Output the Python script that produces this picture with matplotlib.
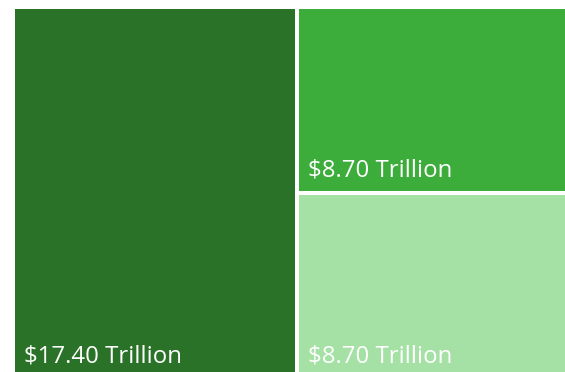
import matplotlib.pyplot as plt
from matplotlib.patches import Rectangle

# treemap data
labels = ["Total", "Part A", "Part B"]
values = [17.40, 8.70, 8.70]
colors = ["#297227", "#3cad3b", "#a5e1a5"]

plt.rcParams["font.family"] = ["Open Sans", "DejaVu Sans"]

fig = plt.figure(figsize=(5.65, 3.72), dpi=100)
ax = fig.add_axes([0, 0, 1, 1])
ax.set_xlim(0, 565)
ax.set_ylim(372, 0)
ax.axis("off")

# plotting area in pixels (runs a little past the canvas on the right/bottom)
x0, x1 = 15, 579
y0, y1 = 9, 377
gap = 2.0

total = sum(values)
left_w = (x1 - x0) * values[0] / total
right_total = values[1] + values[2]
top_h = (y1 - y0) * values[1] / right_total

boxes = [
    (x0, y0, left_w, y1 - y0),
    (x0 + left_w, y0, x1 - x0 - left_w, top_h),
    (x0 + left_w, y0 + top_h, x1 - x0 - left_w, y1 - y0 - top_h),
]

for (bx, by, bw, bh), v, c in zip(boxes, values, colors):
    # shrink each box a bit so white gaps show between tiles
    l = bx + (gap if bx > x0 else 0)
    t = by + (gap if by > y0 else 0)
    r = bx + bw - (gap if bx + bw < x1 - 1 else 0)
    b = by + bh - (gap if by + bh < y1 - 1 else 0)
    ax.add_patch(Rectangle((l, t), r - l, b - t, facecolor=c, edgecolor="none"))
    ax.text(l + 9, b - 14, f"${v:.2f} Trillion", color="white", fontsize=17.3,
            ha="left", va="baseline")

fig.savefig("out.png", dpi=100)
